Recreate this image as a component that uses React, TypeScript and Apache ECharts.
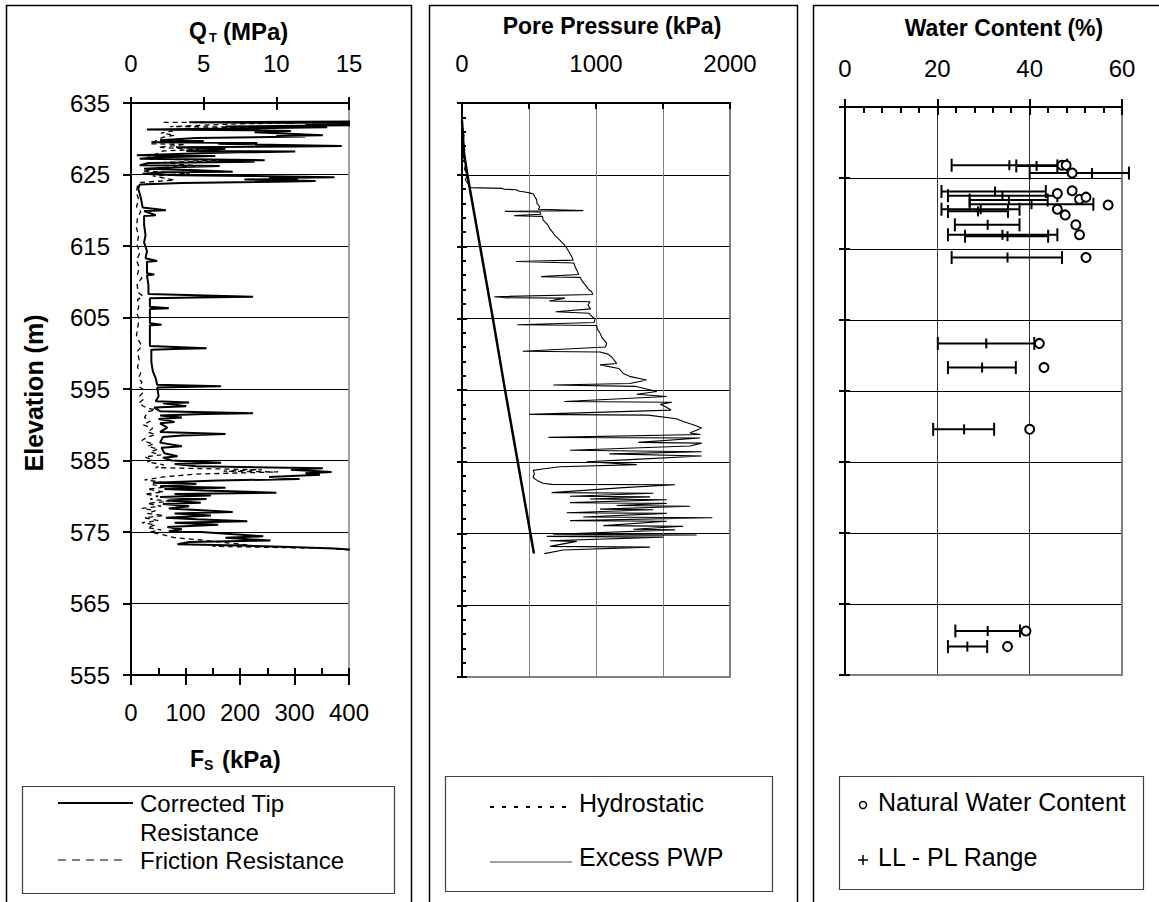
import React, { useEffect, useRef } from "react";
import * as echarts from "echarts";

const FONT = '"Liberation Sans", Arial, sans-serif';

// Corrected tip resistance qT [MPa, elevation m]
const QT: [number, number][] = [
  [15.3, 632.4], [4.0, 632.3], [15.3, 632.2], [12.0, 632.0], [15.3, 631.9], [6.5, 631.7], [13.5, 631.6],
  [1.1, 631.3], [8.0, 631.2], [11.0, 631.1], [8.5, 630.9], [13.2, 630.5], [10.0, 630.4], [12.0, 630.3],
  [4.5, 630.1], [2.0, 629.8], [5.0, 629.7], [1.4, 629.5], [8.7, 629.4], [6.0, 629.3], [14.5, 629.0],
  [11.5, 628.9], [3.1, 628.8], [6.5, 628.6], [3.8, 628.3], [11.3, 628.2], [7.5, 628.1], [5.4, 628.0],
  [0.4, 627.7], [5.8, 627.6], [2.0, 627.4], [0.6, 627.2], [9.2, 627.0], [6.0, 626.9], [8.5, 626.8],
  [1.2, 626.6], [0.6, 626.3], [6.1, 626.2], [3.0, 626.0], [0.9, 625.8], [4.5, 625.6], [7.0, 625.4],
  [2.2, 625.3], [0.8, 625.1], [3.2, 624.9], [8.0, 624.8], [14.0, 624.6], [9.5, 624.5], [11.5, 624.4],
  [7.8, 624.3], [12.7, 624.1], [10.0, 624.0], [3.5, 623.8], [0.6, 623.6],
  [0.5, 623.0], [0.6, 622.3], [0.7, 621.5], [0.8, 620.4], [2.4, 620.0], [0.9, 619.9], [1.7, 619.3],
  [0.9, 619.2], [0.9, 618.0], [1.0, 616.5], [0.9, 615.5], [1.1, 614.3], [1.0, 613.3], [1.8, 612.9],
  [1.1, 612.8], [1.1, 611.2], [1.6, 611.0], [1.1, 610.9], [1.2, 609.5], [1.2, 608.3], [8.4, 607.9],
  [4.5, 607.8], [1.3, 607.7], [1.3, 606.5], [2.6, 606.3], [1.3, 606.2], [1.3, 604.2], [2.1, 604.0],
  [1.3, 603.9], [1.3, 601.0], [5.2, 600.7], [3.0, 600.6], [1.4, 600.5], [1.4, 598.8], [1.5, 597.5],
  [1.7, 596.5], [1.8, 595.6], [6.2, 595.4], [1.8, 595.2], [1.9, 594.0], [1.7, 593.3], [4.0, 593.1],
  [2.2, 593.0], [3.8, 592.6], [1.6, 592.4], [2.0, 591.9], [8.4, 591.6], [5.0, 591.5], [2.0, 591.3],
  [3.5, 591.0], [1.9, 590.8], [3.0, 590.4], [2.0, 590.2], [2.5, 589.6], [2.0, 589.0], [6.5, 588.7],
  [3.5, 588.5], [2.2, 588.3], [2.0, 587.5], [3.5, 587.0], [2.1, 586.8], [2.3, 586.0], [3.2, 585.6],
  [2.2, 585.4], [2.8, 585.0], [6.2, 584.7], [3.0, 584.5], [4.5, 584.2], [13.2, 583.9], [11.0, 583.7],
  [13.8, 583.4], [12.0, 583.2], [13.0, 583.0], [9.5, 582.7], [11.6, 582.4], [6.0, 582.2], [1.5, 581.9],
  [4.5, 581.7], [2.0, 581.4], [6.5, 581.2], [2.3, 581.0], [5.0, 580.8], [10.0, 580.5], [3.0, 580.3],
  [5.5, 580.1], [2.0, 579.9], [5.2, 579.6], [2.5, 579.4], [4.8, 579.1], [2.2, 578.9], [4.0, 578.6],
  [2.6, 578.3], [7.0, 577.8], [3.0, 577.6], [5.5, 577.3], [2.4, 577.0], [4.5, 576.8], [8.0, 576.5],
  [3.0, 576.3], [6.0, 576.0], [2.5, 575.7], [3.5, 575.4], [2.6, 575.1], [4.8, 575.0], [9.1, 574.4],
  [6.5, 574.2], [9.6, 573.8], [4.0, 573.6], [3.2, 573.3], [7.5, 573.1], [11.0, 572.9], [14.0, 572.7],
  [15.3, 572.5],
];

// Friction resistance fs [kPa, elevation m]
const FS: [number, number][] = [
  [60, 632.3], [300, 632.2], [200, 632.1], [72, 631.7], [270, 631.6], [100, 631.4], [55, 630.8],
  [80, 630.5], [58, 630.2], [35, 629.3], [100, 629.2], [50, 628.8], [125, 628.5], [60, 628.3],
  [25, 627.2], [180, 626.9], [60, 626.7], [120, 626.2], [65, 626.0], [22, 625.5], [108, 625.1],
  [40, 624.8], [80, 624.2], [17, 623.9], [12, 623.5],
  [10, 622.5], [14, 621.5], [10, 620.5], [18, 619.8], [12, 619.0], [10, 617.5], [14, 616.5],
  [11, 615.2], [16, 614.0], [10, 613.0], [15, 612.0], [12, 611.0], [20, 610.5], [11, 609.8],
  [13, 608.5], [22, 608.0], [12, 607.5], [14, 606.5], [11, 605.5], [15, 604.8], [12, 603.5],
  [10, 602.5], [14, 601.8], [20, 601.0], [12, 600.3], [15, 599.0], [12, 598.0], [18, 597.2],
  [13, 596.5], [20, 596.0], [15, 595.3], [25, 594.8], [16, 594.0], [22, 593.5], [14, 593.0],
  [30, 592.3], [45, 592.1], [30, 591.8], [25, 591.0], [35, 590.5], [22, 590.0], [40, 589.5],
  [30, 589.0], [45, 588.6], [28, 588.2], [20, 587.8], [42, 587.3], [30, 587.0], [50, 586.6],
  [35, 586.2], [55, 585.8], [25, 585.5], [40, 585.1], [30, 584.8], [60, 584.4], [45, 584.0],
  [240, 583.7], [170, 583.5], [270, 583.4], [120, 583.1], [60, 582.7], [25, 582.3], [55, 582.0],
  [40, 581.6], [65, 581.3], [30, 581.0], [60, 580.6], [25, 580.3], [50, 580.0], [35, 579.6],
  [70, 579.3], [30, 579.0], [55, 578.6], [20, 578.3], [45, 578.0], [30, 577.6], [60, 577.3],
  [25, 577.0], [50, 576.6], [20, 576.3], [45, 576.0], [30, 575.6], [55, 575.3], [35, 575.0],
  [60, 574.6], [80, 574.2], [140, 573.8], [187, 573.4], [213, 573.2], [150, 573.0], [365, 572.7],
  [400, 572.5],
];

// Hydrostatic pore pressure [kPa, elevation m]
const HYDRO: [number, number][] = [
  [0, 632.5], [15, 628.0], [40, 625.0], [230, 605.0], [325, 594.6], [430, 583.5], [537, 572.2],
];

// Measured (excess) pore water pressure [kPa, elevation m]
const PWP: [number, number][] = [
  [0, 632.6], [5, 631.5], [15, 630.5], [8, 629.5], [20, 628.5], [12, 627.5], [30, 626.5], [18, 625.8],
  [40, 625.0], [25, 624.3], [50, 623.6], [60, 623.2], [300, 623.1], [310, 623.0], [400, 622.9],
  [430, 622.7], [470, 622.6], [520, 622.4], [532, 622.3], [545, 621.9], [557, 621.5], [560, 621.0],
  [580, 620.5], [570, 620.2], [905, 620.0], [600, 619.95], [320, 619.9], [580, 619.8], [590, 619.5],
  [390, 619.3], [600, 619.2], [605, 618.7], [640, 618.0], [655, 617.5], [680, 616.9], [700, 616.4],
  [730, 615.9], [760, 615.3], [781, 614.8], [800, 614.2], [818, 613.6], [830, 613.1], [403, 612.9],
  [835, 612.7], [843, 612.2], [860, 611.6], [870, 611.1], [590, 610.8], [881, 610.7], [900, 610.1],
  [930, 609.4], [945, 609.0], [968, 608.7], [975, 608.3], [241, 608.0], [320, 607.85], [768, 607.8],
  [651, 607.4], [955, 607.3], [940, 606.8], [960, 606.3], [699, 605.9], [950, 605.7], [955, 605.5],
  [993, 604.9], [985, 604.4], [413, 604.1], [1005, 604.0], [1010, 603.5], [1030, 602.9], [1045, 602.3],
  [1080, 601.5], [1070, 601.0], [453, 600.4], [1030, 600.3], [1090, 600.0], [1117, 599.6], [1154, 598.7],
  [1030, 598.5], [1170, 598.0], [1204, 597.3], [1250, 596.9], [1378, 596.4], [1254, 595.9], [681, 595.7],
  [1300, 595.5], [1453, 594.8], [1304, 594.4], [1528, 594.1], [764, 593.4], [1565, 593.3], [1480, 593.0],
  [1515, 592.7], [1560, 592.2], [502, 591.6], [1390, 591.5], [1600, 591.0], [1651, 590.6], [1720, 590.2],
  [1789, 589.7], [1701, 589.0], [1780, 588.8], [644, 588.4], [1776, 588.3], [1316, 587.7], [1789, 587.6],
  [1700, 587.2], [806, 586.6], [1789, 586.4], [1100, 586.1], [1789, 585.8], [1254, 585.3], [930, 585.0],
  [1304, 584.6], [731, 584.3], [600, 584.0], [532, 583.8], [540, 583.3], [530, 582.8], [560, 582.4],
  [605, 582.0], [669, 581.85], [1590, 581.8], [1204, 581.4], [669, 580.7], [1428, 580.6], [806, 580.2],
  [1403, 580.1], [955, 579.8], [1528, 579.7], [806, 579.3], [1528, 579.2], [1154, 578.9], [1701, 578.8],
  [1030, 578.4], [1428, 578.3], [781, 577.9], [1528, 577.8], [905, 577.3], [1868, 577.2], [806, 576.8],
  [1528, 576.7], [1055, 576.1], [1651, 576.0], [1279, 575.6], [1590, 575.5], [681, 574.9], [1751, 574.8],
  [632, 574.6], [1502, 574.5], [657, 574.0], [856, 573.9], [657, 573.2], [1403, 573.1], [756, 572.7],
  [614, 572.2],
];

// Natural water content [% , elevation m]
const WC: [number, number][] = [
  [47.0, 626.8], [47.9, 626.8], [49.2, 625.7], [46.0, 622.8], [49.2, 623.2], [50.8, 622.0], [52.2, 622.3],
  [57.0, 621.2], [46.0, 620.6], [47.7, 619.8], [50.0, 618.4], [50.8, 617.0], [52.2, 613.8],
  [42.1, 601.7], [43.1, 598.3], [40.0, 589.6], [39.2, 561.2], [35.2, 559.0],
];

// Atterberg limits [PL %, LL %, mid %, elevation m]
const RANGES: [number, number, number, number][] = [
  [23.1, 48.1, 35.6, 626.8], [37.1, 46.0, 41.5, 626.7], [40.0, 61.5, 53.5, 625.7],
  [20.9, 43.5, 32.5, 623.1], [22.3, 46.0, 34.1, 622.5], [27.0, 43.9, 35.5, 621.9],
  [27.0, 53.8, 40.4, 621.3], [20.9, 37.8, 29.4, 620.6], [22.3, 35.3, 28.8, 620.3],
  [23.8, 37.8, 30.9, 618.4], [22.3, 46.0, 34.1, 617.0], [26.0, 44.0, 35.2, 616.8],
  [23.1, 47.0, 35.2, 613.8], [20.1, 41.0, 30.6, 601.7], [22.3, 37.0, 29.7, 598.3],
  [19.1, 32.3, 25.8, 589.6], [23.9, 37.9, 30.9, 561.2], [22.3, 30.8, 26.5, 559.0],
];

const ELEV_MIN = 555;
const ELEV_MAX = 635;

const lbl = (show: boolean, margin = 8, formatter?: any) => ({
  show,
  margin,
  fontSize: 24,
  color: "#000",
  fontFamily: FONT,
  ...(formatter ? { formatter } : {}),
});
const blackLine = (w = 2) => ({ show: true, onZero: false, lineStyle: { color: "#000", width: w } });
const grayLine = (w = 2) => ({ show: true, onZero: false, lineStyle: { color: "#808080", width: w } });
const noLine = { show: false, onZero: false };
const tick = (inside: boolean, length: number, w = 2) => ({
  show: true,
  inside,
  length,
  lineStyle: { color: "#000", width: w },
});
const noTick = { show: false };
const noSplit = { show: false };

function txt(x: number, y: number, text: string, size: number, bold = false, align = "left", extra: any = {}) {
  return {
    type: "text",
    x,
    y,
    ...extra,
    style: {
      text,
      fill: "#000",
      fontSize: size,
      fontWeight: bold ? "bold" : "normal",
      fontFamily: FONT,
      align,
      verticalAlign: "middle",
    },
  };
}
function ln(x1: number, y1: number, x2: number, y2: number, stroke = "#000", w = 1.5, dash?: number[]) {
  return {
    type: "line",
    shape: { x1, y1, x2, y2 },
    style: { stroke, lineWidth: w, ...(dash ? { lineDash: dash } : {}) },
  };
}
function box(x: number, y: number, w: number, h: number, stroke = "#000", lw = 1.5) {
  return { type: "rect", shape: { x, y, width: w, height: h }, style: { fill: "none", stroke, lineWidth: lw } };
}

export default function App() {
  const ref = useRef<HTMLDivElement>(null);
  useEffect(() => {
    if (!ref.current) return;
    const chart = echarts.init(ref.current, undefined, { renderer: "svg" });

    const yBase = { type: "value", min: ELEV_MIN, max: ELEV_MAX, interval: 10 };

    const option: any = {
      animation: false,
      backgroundColor: "#fff",
      textStyle: { fontFamily: FONT },
      grid: [
        { left: 131, top: 103, width: 218, height: 572 },
        { left: 462, top: 103, width: 268, height: 574 },
        { left: 845, top: 107, width: 277, height: 568 },
      ],
      xAxis: [
        { type: "value", gridIndex: 0, position: "top", min: 0, max: 15, interval: 5,
          axisLine: blackLine(), axisTick: tick(false, 6), axisLabel: lbl(true, 28), splitLine: noSplit },
        { type: "value", gridIndex: 0, position: "top", min: 0, max: 15, interval: 5,
          axisLine: noLine, axisTick: tick(true, 7), axisLabel: lbl(false), splitLine: noSplit },
        { type: "value", gridIndex: 0, position: "bottom", min: 0, max: 400, interval: 100,
          axisLine: blackLine(), axisTick: tick(false, 10), axisLabel: lbl(true, 25), splitLine: noSplit },
        { type: "value", gridIndex: 0, position: "bottom", min: 0, max: 400, interval: 100,
          axisLine: noLine, axisTick: tick(true, 7), axisLabel: lbl(false), splitLine: noSplit,
          minorTick: { show: true, splitNumber: 2, length: 7, lineStyle: { color: "#000", width: 2 } } },
        { type: "value", gridIndex: 1, position: "top", min: 0, max: 2000, interval: 500,
          axisLine: blackLine(), axisTick: tick(true, 6),
          axisLabel: lbl(true, 28, (v: number) => (v % 1000 === 0 ? String(v) : "")),
          splitLine: { show: true, showMinLine: false, showMaxLine: false, lineStyle: { color: "#808080", width: 1 } } },
        { type: "value", gridIndex: 1, position: "bottom", min: 0, max: 2000, interval: 500,
          axisLine: grayLine(2), axisTick: noTick, axisLabel: lbl(false), splitLine: noSplit },
        { type: "value", gridIndex: 2, position: "top", min: 0, max: 60, interval: 20,
          axisLine: blackLine(), axisTick: tick(false, 8), axisLabel: lbl(true, 27),
          splitLine: { show: true, showMinLine: false, showMaxLine: false, lineStyle: { color: "#333", width: 1 } } },
        { type: "value", gridIndex: 2, position: "top", min: 0, max: 60, interval: 20,
          axisLine: noLine, axisTick: tick(true, 8), axisLabel: lbl(false), splitLine: noSplit,
          minorTick: { show: true, splitNumber: 5, length: 6, lineStyle: { color: "#000", width: 2 } } },
        { type: "value", gridIndex: 2, position: "bottom", min: 0, max: 60, interval: 20,
          axisLine: grayLine(2), axisTick: noTick, axisLabel: lbl(false), splitLine: noSplit },
      ],
      yAxis: [
        { ...yBase, gridIndex: 0, position: "left", axisLine: blackLine(), axisTick: tick(false, 8),
          axisLabel: lbl(true, 21),
          splitLine: { show: true, showMinLine: false, showMaxLine: false, lineStyle: { color: "#000", width: 1 } } },
        { ...yBase, gridIndex: 0, position: "right", axisLine: grayLine(1.5), axisTick: noTick,
          axisLabel: lbl(false), splitLine: noSplit },
        { ...yBase, gridIndex: 1, position: "left", axisLine: blackLine(), axisTick: tick(false, 5),
          axisLabel: lbl(false),
          splitLine: { show: true, showMinLine: false, showMaxLine: false, lineStyle: { color: "#000", width: 1 } } },
        { ...yBase, gridIndex: 1, position: "left", axisLine: noLine, axisTick: tick(true, 5),
          axisLabel: lbl(false), splitLine: noSplit,
          minorTick: { show: true, splitNumber: 5, length: 4, lineStyle: { color: "#000", width: 2 } } },
        { ...yBase, gridIndex: 1, position: "right", axisLine: grayLine(2), axisTick: noTick,
          axisLabel: lbl(false), splitLine: noSplit },
        { ...yBase, gridIndex: 2, position: "left", axisLine: blackLine(), axisTick: tick(false, 6),
          axisLabel: lbl(false),
          splitLine: { show: true, showMinLine: false, showMaxLine: false, lineStyle: { color: "#000", width: 1 } } },
        { ...yBase, gridIndex: 2, position: "left", axisLine: noLine, axisTick: tick(true, 5),
          axisLabel: lbl(false), splitLine: noSplit },
        { ...yBase, gridIndex: 2, position: "right", axisLine: grayLine(2), axisTick: noTick,
          axisLabel: lbl(false), splitLine: noSplit },
      ],
      series: [
        { type: "line", name: "Friction Resistance", xAxisIndex: 2, yAxisIndex: 0, data: FS,
          symbol: "none", lineStyle: { color: "#000", width: 1.3, type: [5, 4] }, z: 2 },
        { type: "line", name: "Corrected Tip Resistance", xAxisIndex: 0, yAxisIndex: 0, data: QT,
          symbol: "none", lineStyle: { color: "#000", width: 2 }, z: 3 },
        { type: "line", name: "Excess PWP", xAxisIndex: 4, yAxisIndex: 2, data: PWP,
          symbol: "none", lineStyle: { color: "#000", width: 1.1 }, z: 2 },
        { type: "line", name: "Hydrostatic", xAxisIndex: 4, yAxisIndex: 2, data: HYDRO,
          symbol: "none", lineStyle: { color: "#000", width: 2.5 }, z: 3 },
        { type: "custom", name: "LL - PL Range", xAxisIndex: 6, yAxisIndex: 5, data: RANGES,
          encode: { x: [0, 1, 2], y: 3 }, z: 3,
          renderItem: (params: any, api: any) => {
            const pl = api.value(0), ll = api.value(1), mid = api.value(2), el = api.value(3);
            const a = api.coord([pl, el]);
            const b = api.coord([ll, el]);
            const m = api.coord([mid, el]);
            const st = { stroke: "#000", lineWidth: 2 };
            return {
              type: "group",
              children: [
                { type: "line", shape: { x1: a[0], y1: a[1], x2: b[0], y2: b[1] }, style: st },
                { type: "line", shape: { x1: a[0], y1: a[1] - 6.5, x2: a[0], y2: a[1] + 6.5 }, style: st },
                { type: "line", shape: { x1: b[0], y1: b[1] - 6.5, x2: b[0], y2: b[1] + 6.5 }, style: st },
                { type: "line", shape: { x1: m[0], y1: m[1] - 5, x2: m[0], y2: m[1] + 5 }, style: st },
              ],
            };
          } },
        { type: "scatter", name: "Natural Water Content", xAxisIndex: 6, yAxisIndex: 5, data: WC,
          symbol: "circle", symbolSize: 9,
          itemStyle: { color: "#fff", borderColor: "#000", borderWidth: 2, opacity: 1 }, z: 5 },
      ],
      graphic: [
        // panel frames
        box(6.5, 5.5, 405, 940),
        box(429.5, 5.5, 368, 940),
        box(813.5, 5.5, 380, 940),
        // panel 1 titles
        txt(189, 31, "Q", 23, true),
        txt(209, 37, "T", 13, true),
        txt(223, 31, "(MPa)", 24, true),
        txt(190, 759, "F", 23, true),
        txt(204, 765, "S", 14, true),
        txt(222, 759, "(kPa)", 24, true),
        txt(34, 393, "Elevation (m)", 25, true, "center", { rotation: Math.PI / 2 }),
        // panel 2 / 3 titles
        txt(612, 26, "Pore Pressure (kPa)", 23, true, "center"),
        txt(1004, 28, "Water Content (%)", 23, true, "center"),
        // legend panel 1
        box(22.5, 786.5, 372, 107, "#404040", 1.2),
        ln(58, 803, 133, 803, "#000", 2),
        txt(140, 803, "Corrected Tip", 24),
        txt(140, 832, "Resistance", 24),
        ln(58, 860, 128, 860, "#000", 1.2, [8, 6]),
        txt(140, 860, "Friction Resistance", 24),
        // legend panel 2
        box(445.5, 776.5, 327, 115, "#404040", 1.2),
        ln(490, 807, 568, 807, "#000", 2, [4, 8]),
        txt(579, 803, "Hydrostatic", 25),
        ln(490, 862, 572, 862, "#808080", 1.5),
        txt(579, 857, "Excess PWP", 25),
        // legend panel 3
        box(839.5, 776.5, 304, 113, "#404040", 1.2),
        { type: "circle", shape: { cx: 863, cy: 805, r: 3.5 }, style: { fill: "#fff", stroke: "#000", lineWidth: 1.5 } },
        txt(878, 802, "Natural Water Content", 25),
        ln(858, 860, 868, 860, "#000", 1.5),
        ln(863, 855, 863, 865, "#000", 1.5),
        txt(878, 857, "LL - PL Range", 25),
      ],
    };
    chart.setOption(option);
    return () => chart.dispose();
  }, []);
  return (
    <div
      ref={ref}
      style={{ position: "absolute", left: 0, top: 0, width: 1159, height: 902, background: "#fff" }}
    />
  );
}
